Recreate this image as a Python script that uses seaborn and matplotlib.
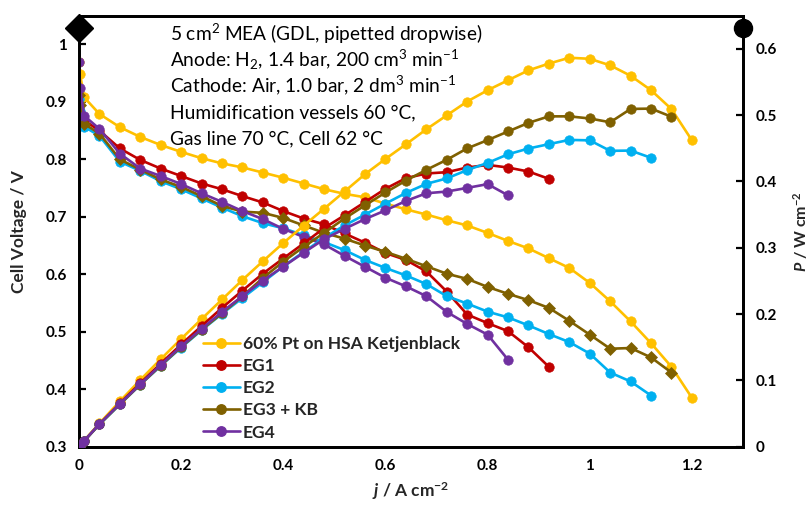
import numpy as np
import pandas as pd
import matplotlib
matplotlib.use("Agg")
import matplotlib.pyplot as plt
from matplotlib.ticker import FuncFormatter, FixedLocator
from matplotlib.lines import Line2D
import seaborn as sns

# ---------------- data ----------------
J = [0, 0.002, 0.01, 0.04, 0.08, 0.12, 0.16, 0.20, 0.24, 0.28, 0.32, 0.36, 0.40,
     0.44, 0.48, 0.52, 0.56, 0.60, 0.64, 0.68, 0.72, 0.76, 0.80, 0.84, 0.88,
     0.92, 0.96, 1.00, 1.04, 1.08, 1.12, 1.16, 1.20]

labels = ["60% Pt on HSA Ketjenblack", "EG1", "EG2", "EG3 + KB", "EG4"]

V_pt = [0.969, 0.949, 0.908, 0.879, 0.856, 0.839, 0.825, 0.813, 0.802, 0.793, 0.786,
        0.777, 0.768, 0.758, 0.748, 0.740, 0.734, 0.723, 0.713, 0.704, 0.694, 0.685,
        0.672, 0.658, 0.645, 0.628, 0.611, 0.585, 0.553, 0.518, 0.480, 0.439, 0.385]
P_pt = [0.0, 0.0019, 0.0091, 0.0352, 0.0685, 0.1007, 0.132, 0.1626, 0.1925, 0.222,
        0.2515, 0.2797, 0.3072, 0.3335, 0.359, 0.385, 0.411, 0.434, 0.456, 0.4787,
        0.4997, 0.5206, 0.5376, 0.5527, 0.5676, 0.5778, 0.5866, 0.585, 0.5751,
        0.5594, 0.5376, 0.5092, 0.462]

V_eg1 = [0.888, 0.880, 0.868, 0.850, 0.819, 0.799, 0.784, 0.771, 0.758, 0.748, 0.736,
         0.725, 0.710, 0.697, 0.687, 0.671, 0.655, 0.637, 0.625, 0.605, 0.570, 0.530,
         0.515, 0.501, 0.473, 0.439]
P_eg1 = [0.0, 0.0018, 0.0087, 0.034, 0.0655, 0.0959, 0.1254, 0.1542, 0.1819, 0.2094,
         0.2355, 0.261, 0.284, 0.3067, 0.3298, 0.349, 0.369, 0.389, 0.405, 0.412,
         0.414, 0.421, 0.425, 0.421, 0.415, 0.404]

V_eg2 = [0.905, 0.885, 0.857, 0.841, 0.796, 0.780, 0.762, 0.748, 0.732, 0.716, 0.701,
         0.689, 0.680, 0.668, 0.656, 0.642, 0.625, 0.611, 0.598, 0.583, 0.562, 0.549,
         0.535, 0.525, 0.511, 0.496, 0.482, 0.462, 0.429, 0.4135, 0.389]
P_eg2 = [0.0, 0.0018, 0.0086, 0.0336, 0.0637, 0.0936, 0.1219, 0.1496, 0.1757, 0.2005,
         0.2243, 0.248, 0.272, 0.2939, 0.3149, 0.3338, 0.35, 0.3666, 0.3827, 0.3964,
         0.4046, 0.4172, 0.428, 0.441, 0.4497, 0.4563, 0.4627, 0.462, 0.4462, 0.4466,
         0.4357]

V_eg3 = [0.912, 0.895, 0.862, 0.845, 0.800, 0.782, 0.765, 0.752, 0.736, 0.719, 0.709,
         0.707, 0.698, 0.685, 0.672, 0.662, 0.650, 0.639, 0.627, 0.614, 0.601, 0.592,
         0.578, 0.566, 0.555, 0.5415, 0.519, 0.495, 0.4705, 0.4717, 0.4553, 0.429]
P_eg3 = [0.0, 0.0018, 0.0086, 0.0338, 0.064, 0.0938, 0.1224, 0.1504, 0.1766, 0.2013,
         0.2269, 0.2545, 0.2792, 0.3014, 0.3226, 0.3442, 0.364, 0.3834, 0.4013, 0.4175,
         0.4327, 0.4499, 0.4624, 0.4754, 0.4884, 0.4982, 0.4982, 0.495, 0.4893, 0.5094,
         0.5099, 0.4976]

V_eg4 = [0.969, 0.925, 0.876, 0.853, 0.810, 0.784, 0.771, 0.757, 0.741, 0.726, 0.710,
         0.696, 0.679, 0.665, 0.652, 0.632, 0.613, 0.594, 0.579, 0.562, 0.5345, 0.5136,
         0.495, 0.4513]
P_eg4 = [0.0, 0.0019, 0.0088, 0.0341, 0.0648, 0.0941, 0.1234, 0.1514, 0.1778, 0.2033,
         0.2272, 0.2506, 0.2716, 0.2926, 0.313, 0.3286, 0.3433, 0.3564, 0.3706, 0.3822,
         0.3848, 0.3903, 0.396, 0.3791]

x_ticks = [0, 0.2, 0.4, 0.6, 0.8, 1.0, 1.2]
yV_ticks = [0.3, 0.4, 0.5, 0.6, 0.7, 0.8, 0.9, 1.0]
yP_ticks = [0, 0.1, 0.2, 0.3, 0.4, 0.5, 0.6]

annotation = [
    r"5 cm$^{2}$ MEA (GDL, pipetted dropwise)",
    r"Anode: H$_{2}$, 1.4 bar, 200 cm$^{3}$ min$^{-1}$",
    r"Cathode: Air, 1.0 bar, 2 dm$^{3}$ min$^{-1}$",
    "Humidification vessels 60 \u00b0C,",
    "Gas line 70 \u00b0C, Cell 62 \u00b0C",
]

colors = ["#FFC000", "#C00000", "#00B0F0", "#7F6000", "#7030A0"]
V_all = [V_pt, V_eg1, V_eg2, V_eg3, V_eg4]
P_all = [P_pt, P_eg1, P_eg2, P_eg3, P_eg4]
V_markers = ["o", "o", "o", "D", "o"]

# ---------------- style ----------------
sns.set_style("white")
FONT = "Lato"
plt.rcParams["font.family"] = [FONT, "DejaVu Sans"]
plt.rcParams["mathtext.fontset"] = "custom"
plt.rcParams["mathtext.rm"] = FONT
plt.rcParams["mathtext.it"] = FONT + ":italic"
plt.rcParams["mathtext.bf"] = FONT + ":bold"
plt.rcParams["mathtext.bfit"] = FONT + ":bold:italic"

W, H = 810, 505
fig = plt.figure(figsize=(W / 100, H / 100), dpi=100)
L, R, T, B = 79, 743, 15.7, 446.7
ax = fig.add_axes([L / W, 1 - B / H, (R - L) / W, (B - T) / H])
ax2 = ax.twinx()

ax.set_xlim(0, 1.3)
ax.set_ylim(0.3, 1.05)
ax2.set_ylim(0, 0.65)

lw = 1.9
ms = 6.8
for lab, c, V, P, mk in zip(labels, colors, V_all, P_all, V_markers):
    dV = pd.DataFrame({"j": J[:len(V)], "V": V})
    dP = pd.DataFrame({"j": J[:len(P)], "P": P})
    sns.lineplot(data=dV, x="j", y="V", ax=ax, color=c, lw=lw, marker=mk,
                 markersize=ms if mk == "o" else ms * 0.95, markeredgecolor=c,
                 markeredgewidth=0.5, sort=False, legend=False, zorder=3)
    sns.lineplot(data=dP, x="j", y="P", ax=ax2, color=c, lw=lw, marker="o",
                 markersize=ms, markeredgecolor=c, markeredgewidth=0.5,
                 sort=False, legend=False, zorder=3)

fmt = FuncFormatter(lambda v, p: f"{v:g}")
ax.xaxis.set_major_locator(FixedLocator(x_ticks))
ax.yaxis.set_major_locator(FixedLocator(yV_ticks))
ax2.yaxis.set_major_locator(FixedLocator(yP_ticks))
for a in (ax, ax2):
    a.xaxis.set_major_formatter(fmt)
    a.yaxis.set_major_formatter(fmt)
    for s in a.spines.values():
        s.set_visible(True)
        s.set_color("black")
        s.set_linewidth(2.0)
    a.tick_params(direction="in", length=5, width=1.6, labelsize=11,
                  colors="black", pad=9)
    a.set_xlabel("")
    a.set_ylabel("")
for lbl in ax.get_xticklabels() + ax.get_yticklabels() + ax2.get_yticklabels():
    lbl.set_fontweight("bold")

ax.set_xlabel(r"$\mathbfit{j}$ / A cm$^{\mathbf{-2}}$", fontsize=12.5,
              fontweight="bold", labelpad=5)
ax.set_ylabel("Cell Voltage / V", fontsize=12.5, fontweight="bold", labelpad=13)
ax2.set_ylabel(r"$\mathbfit{P}$ / W cm$^{\mathbf{-2}}$", fontsize=11.5,
               fontweight="bold", labelpad=10, rotation=90)

# axis end markers
ax.plot([0], [0.971], marker="D", color="black", ms=14, transform=ax.transAxes,
        clip_on=False, zorder=10)
ax.plot([1], [0.971], marker="o", color="black", ms=13, transform=ax.transAxes,
        clip_on=False, zorder=10)

# annotation
for i, line in enumerate(annotation):
    fig.text(170 / W, 1 - (41 + 25.8 * i) / H, line, fontsize=13.75,
             ha="left", va="baseline", color="black")

# legend
leg_fs = 12.6
handles = [Line2D([0], [0], color=c, lw=lw, marker="o", ms=ms,
                  markeredgecolor=c) for c in colors]
leg = ax.legend(handles, labels, loc="upper left",
                bbox_to_anchor=((203 - L) / (R - L), (B - 336) / (B - T)),
                frameon=False, handlelength=2.1, handletextpad=0.17,
                labelspacing=0.35, borderpad=0, borderaxespad=0,
                prop={"family": FONT, "weight": "bold", "size": leg_fs})
leg.set_zorder(20)

fig.savefig("out.png", dpi=100)
